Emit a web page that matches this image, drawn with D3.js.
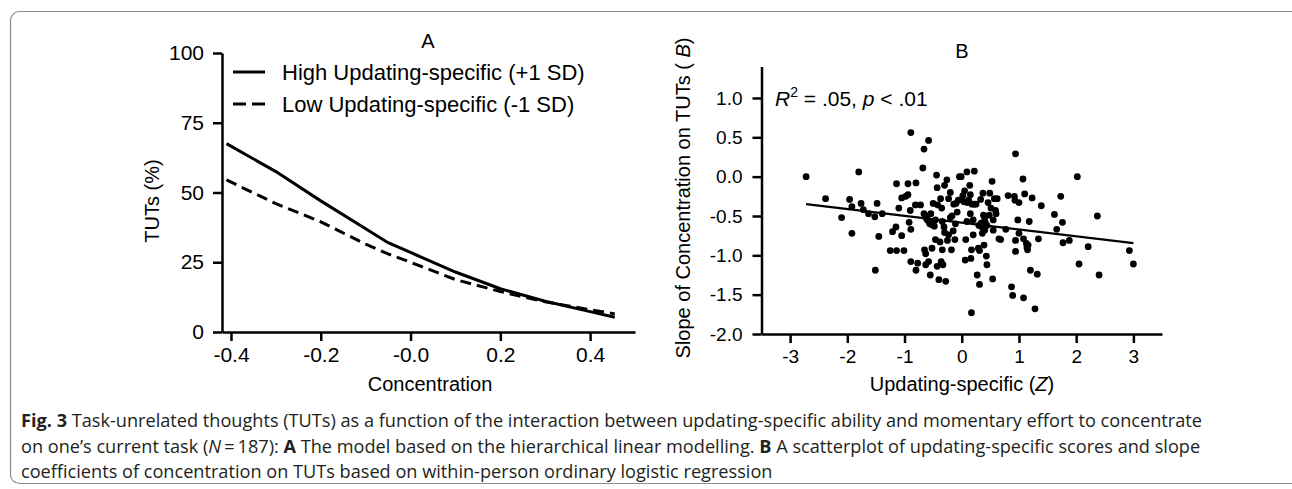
<!DOCTYPE html>
<html>
<head>
<meta charset="utf-8">
<script src="https://cdn.jsdelivr.net/npm/d3@7/dist/d3.min.js"></script>
<style>
body { margin: 0; background: #fff; }
svg { display: block; font-family: "Liberation Sans", Arial, sans-serif; }
.axis path, .axis line { stroke: #000; stroke-width: 2.5; }
.axis text { fill: #000; }
</style>
</head>
<body>
<script>
// Panel A: model lines (TUTs % by concentration).
var concentration = [-0.41, -0.3, -0.2, -0.1, -0.05, 0.0, 0.1, 0.2, 0.3, 0.4, 0.455];
var highUpdating  = [67.5, 57.5, 47, 37, 32, 28.5, 21.5, 15.5, 11, 7.3, 5.3];
var lowUpdating   = [54.5, 46, 39.5, 31.5, 28, 25, 18.8, 14.5, 10.8, 8, 6.5];
var tutTicks = [0, 25, 50, 75, 100];
var concTicks = [-0.4, -0.2, 0, 0.2, 0.4];
var concTickLabels = ["-0.4", "-0.2", "-0.0", "0.2", "0.4"];
var legendLabels = ["High Updating-specific (+1 SD)", "Low Updating-specific (-1 SD)"];

// Panel B: scatter of updating-specific Z vs slope.
var updatingZ = [-2.72, -2.38, -2.10, -1.96, -1.92, -1.92, -1.80, -1.76, -1.72, -1.63,
  -1.52, -1.48, -1.39, -1.51, -1.45, -1.25, -1.14, -1.14, -1.01, -1.21,
  -1.15, -1.10, -1.05, -1.05, -0.98, -0.94, -0.94, -0.92, -0.90, -0.89,
  -0.89, -0.89, -0.80, -0.81, -0.77, -0.80, -0.72, -0.68, -0.66, -0.58,
  -0.65, -0.63, -0.63, -0.58, -0.55, -0.52, -0.62, -0.58, -0.55, -0.54,
  -0.52, -0.50, -0.46, -0.46, -0.44, -0.43, -0.42, -0.43, -0.40, -0.38,
  -0.37, -0.36, -0.34, -0.33, -0.34, -0.31, -0.30, -0.30, -0.28, -0.26,
  -0.25, -0.23, -0.23, -0.20, -0.18, -0.17, -0.15, -0.14, -0.11, -0.10,
  -0.06, -0.04, -0.01, 0.00, 0.02, 0.04, 0.06, 0.07, 0.09, 0.09,
  0.12, 0.14, 0.15, 0.15, 0.16, 0.17, 0.17, 0.18, 0.20, 0.22,
  0.20, 0.22, 0.27, 0.29, 0.31, 0.31, 0.33, 0.34, 0.36, 0.37,
  0.38, 0.39, 0.40, 0.41, 0.43, 0.44, 0.46, 0.48, 0.49, 0.51,
  0.53, 0.54, 0.55, 0.57, 0.59, 0.60, 0.62, 0.65, 0.68, 0.77,
  0.81, 0.87, 0.89, 0.92, 0.93, 0.94, 0.94, 0.94, 0.98, 1.00,
  1.00, 1.07, 1.08, 1.08, 1.10, 1.13, 1.14, 1.15, 1.16, 1.18,
  1.20, 1.23, 1.28, 1.32, 1.34, 1.39, 1.62, 1.66, 1.73, 1.76,
  1.77, 1.88, 2.02, 2.05, 2.21, 2.37, 2.40, 2.93, 3.00, -0.62,
  -0.60, -0.56, -0.50, -0.48, -0.66, 0.30, 0.35, 0.44, 0.40, 0.25,
  0.10, -0.20, -0.08, 0.55, -0.35, 0.05, -0.12];
var slopeB = [0.00, -0.28, -0.52, -0.29, -0.38, -0.72, 0.06, -0.34, -0.42, -0.47,
  -0.51, -0.34, -0.47, -1.19, -0.76, -0.94, -0.09, -0.94, -0.94, -0.70,
  -0.64, -0.40, -0.27, -0.75, -0.25, -0.23, -0.09, -0.58, -0.43, -0.67,
  0.56, -1.08, -0.08, -0.36, -1.10, -1.19, -0.36, 0.11, 0.35, 0.46,
  -0.93, -0.98, -1.12, -1.08, -1.25, -0.91, -0.53, -0.56, -0.58, -0.47,
  -0.61, -0.34, -0.80, -0.55, 0.02, -0.14, -0.36, -1.14, -1.31, -0.83,
  -0.28, -1.08, -0.57, -1.12, -0.93, -0.64, -0.71, -0.11, -1.33, -0.04,
  -0.81, -0.74, -0.28, -0.20, -0.93, -0.50, -0.69, -0.35, -0.60, -0.34,
  -0.30, 0.00, 0.00, -0.29, -0.24, -0.32, -1.06, -0.80, -0.57, 0.06,
  -0.30, -0.11, -0.23, -0.47, -1.04, -1.73, -0.93, -0.35, -0.74, 0.07,
  -0.55, -0.35, -1.25, -0.91, -1.37, -0.94, -0.29, -0.59, -0.72, -0.21,
  -0.49, -0.87, -0.68, -0.58, -1.01, -1.12, -0.33, -0.49, -0.21, -0.40,
  -0.06, -1.30, -0.68, -0.28, -0.43, -0.47, -0.28, -0.79, -0.80, -0.67,
  -0.24, -1.40, -1.51, -0.25, -0.30, 0.29, -0.81, -0.95, -0.55, -0.33,
  -0.72, -0.03, -1.54, -0.79, -0.22, -0.85, -0.90, -0.93, -0.87, -0.57,
  -1.19, -0.27, -1.68, -1.24, -0.79, -0.37, -0.48, -0.67, -0.25, -0.58,
  -0.84, -0.81, 0.00, -1.11, -0.89, -0.50, -1.25, -0.94, -1.11, -0.50,
  -0.55, -0.60, -0.58, -0.63, -0.47, -0.62, -0.64, -0.62, -0.55, -0.35,
  -0.33, -0.52, -0.45, -0.55, -0.40, -0.18, -0.80];
var fitZ = [-2.72, 3.0];
var fitSlope = [-0.35, -0.845];
var zTicks = [-3, -2, -1, 0, 1, 2, 3];
var slopeTicks = [-2.0, -1.5, -1.0, -0.5, 0.0, 0.5, 1.0];

// Create canvas.
var svg = d3.select("body").append("svg")
        .attr("width", 1292)
        .attr("height", 489);

// Outer frame.
svg.append("rect")
        .attr("x", 10.5).attr("y", 11.5)
        .attr("width", 1290).attr("height", 472)
        .attr("rx", 9).attr("ry", 9)
        .style("fill", "none")
        .style("stroke", "#8c8c8c")
        .style("stroke-width", 1.2);

// ---------- Panel A ----------
var xA = d3.scaleLinear().domain([-0.42, 0.5]).range([222, 635]);
var yA = d3.scaleLinear().domain([0, 100]).range([332, 53]);

var gAx = svg.append("g").attr("class", "axis")
        .attr("transform", "translate(0,332)")
        .call(d3.axisBottom(xA).tickValues(concTicks).tickSize(9).tickSizeOuter(0)
              .tickFormat(function(d, i) { return concTickLabels[i]; }));
gAx.selectAll("text").attr("y", 30).attr("dy", 0).style("font-size", "21px");

var gAy = svg.append("g").attr("class", "axis")
        .attr("transform", "translate(222,0)")
        .call(d3.axisLeft(yA).tickValues(tutTicks).tickSize(9).tickSizeOuter(0).tickPadding(9));
gAy.selectAll("text").style("font-size", "21px");

var lineA = d3.line()
        .x(function(d) { return xA(d[0]); })
        .y(function(d) { return yA(d[1]); });

svg.append("path")
        .datum(d3.zip(concentration, lowUpdating))
        .attr("d", lineA)
        .style("fill", "none").style("stroke", "#000")
        .style("stroke-width", 3).style("stroke-dasharray", "11,6");
svg.append("path")
        .datum(d3.zip(concentration, highUpdating))
        .attr("d", lineA)
        .style("fill", "none").style("stroke", "#000")
        .style("stroke-width", 3);

// Legend.
var legend = svg.append("g");
legendLabels.forEach(function(label, i) {
    var y = 72 + i * 32;
    legend.append("line")
            .attr("x1", 233).attr("x2", 265).attr("y1", y).attr("y2", y)
            .style("stroke", "#000").style("stroke-width", 3)
            .style("stroke-dasharray", i === 0 ? null : "13,6");
    legend.append("text")
            .attr("x", 282).attr("y", y + 8)
            .style("font-size", "22px")
            .text(label);
});

svg.append("text").attr("x", 428).attr("y", 48)
        .attr("text-anchor", "middle").style("font-size", "20px").text("A");
svg.append("text").attr("x", 430).attr("y", 391)
        .attr("text-anchor", "middle").style("font-size", "20px").text("Concentration");
svg.append("text")
        .attr("transform", "translate(159,201) rotate(-90)")
        .attr("text-anchor", "middle").style("font-size", "20px").text("TUTs (%)");

// ---------- Panel B ----------
var xB = d3.scaleLinear().domain([-3.5, 3.5]).range([761.5, 1162]);
var yB = d3.scaleLinear().domain([-2, 1.4]).range([334, 66.5]);

var gBx = svg.append("g").attr("class", "axis")
        .attr("transform", "translate(0,334)")
        .call(d3.axisBottom(xB).tickValues(zTicks).tickSize(9).tickSizeOuter(0)
              .tickFormat(function(d) { return String(d); }));
gBx.selectAll("text").attr("y", 29).attr("dy", 0).style("font-size", "19px");

var gBy = svg.append("g").attr("class", "axis")
        .attr("transform", "translate(761.5,0)")
        .call(d3.axisLeft(yB).tickValues(slopeTicks).tickSize(9).tickSizeOuter(0).tickPadding(10)
              .tickFormat(function(d) { return d.toFixed(1); }));
gBy.selectAll("text").style("font-size", "19px");

svg.append("g").selectAll("circle")
        .data(d3.zip(updatingZ, slopeB))
        .enter().append("circle")
        .attr("cx", function(d) { return xB(d[0]); })
        .attr("cy", function(d) { return yB(d[1]); })
        .attr("r", 3.4)
        .style("fill", "#000");

svg.append("path")
        .datum(d3.zip(fitZ, fitSlope))
        .attr("d", d3.line()
              .x(function(d) { return xB(d[0]); })
              .y(function(d) { return yB(d[1]); }))
        .style("fill", "none").style("stroke", "#000").style("stroke-width", 2.2);

var r2 = svg.append("text").attr("x", 775).attr("y", 106).style("font-size", "21px");
r2.append("tspan").style("font-style", "italic").text("R");
r2.append("tspan").attr("dy", -9).style("font-size", "14px").text("2");
r2.append("tspan").attr("dy", 9).text(" = .05, ");
r2.append("tspan").style("font-style", "italic").text("p");
r2.append("tspan").text(" < .01");

svg.append("text").attr("x", 962).attr("y", 58)
        .attr("text-anchor", "middle").style("font-size", "20px").text("B");
svg.append("text").attr("x", 962).attr("y", 391)
        .attr("text-anchor", "middle").style("font-size", "20px")
        .html('Updating-specific (<tspan font-style="italic">Z</tspan>)');
var ylabB = svg.append("text")
        .attr("transform", "translate(690,198) rotate(-90)")
        .attr("text-anchor", "middle").style("font-size", "20px");
ylabB.append("tspan").text("Slope of Concentration on TUTs ( ");
ylabB.append("tspan").style("font-style", "italic").text("B");
ylabB.append("tspan").text(")");

// ---------- Caption ----------
var captionLines = [
    [["b", "Fig. 3"], ["", "  Task-unrelated thoughts (TUTs) as a function of the interaction between updating-specific ability and momentary effort to concentrate"]],
    [["", "on one\u2019s current task ("], ["i", "N"], ["", "\u2009=\u2009187): "], ["b", "A"], ["", " The model based on the hierarchical linear modelling. "], ["b", "B"], ["", " A scatterplot of updating-specific scores and slope"]],
    [["", "coefficients of concentration on TUTs based on within-person ordinary logistic regression"]]
];
var captionNodes = captionLines.map(function(parts, i) {
    var t = svg.append("text")
            .attr("x", 21).attr("y", 427 + i * 25.5)
            .style("font-family", "'Open Sans', 'Noto Sans', sans-serif")
            .style("font-size", "18px")
            .style("fill", "#231f20");
    parts.forEach(function(p) {
        t.append("tspan")
                .style("font-weight", p[0] === "b" ? "bold" : null)
                .style("font-style", p[0] === "i" ? "italic" : null)
                .text(p[1]);
    });
    return t;
});
// Squeeze every line by the same factor so the first line ends where the reference's does.
var squeeze = (1202 - 21) / captionNodes[0].node().getComputedTextLength();
captionNodes.forEach(function(t) {
    t.attr("textLength", t.node().getComputedTextLength() * squeeze)
     .attr("lengthAdjust", "spacingAndGlyphs");
});
</script>
</body>
</html>
